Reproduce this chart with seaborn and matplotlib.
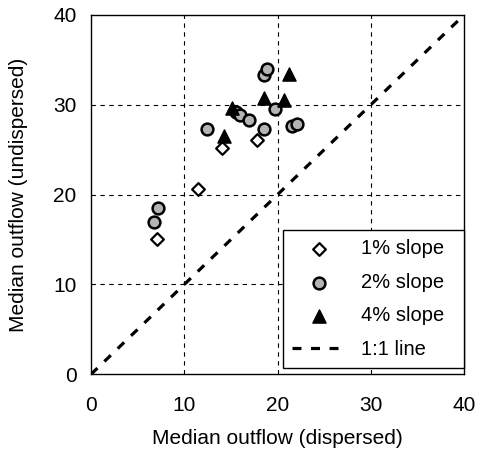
import matplotlib
matplotlib.use("Agg")
import matplotlib.pyplot as plt
import seaborn as sns
import pandas as pd
import numpy as np

# ---- data ----
slope1_x = [7.1, 11.5, 14.0, 17.8]
slope1_y = [15.1, 20.6, 25.2, 26.1]

slope2_x = [7.2, 6.8, 12.4, 15.6, 16.0, 16.9, 18.6, 18.6, 18.9, 19.7, 21.6, 22.1]
slope2_y = [18.5, 17.0, 27.3, 29.2, 28.9, 28.3, 27.3, 33.3, 34.0, 29.5, 27.6, 27.9]

slope4_x = [14.3, 15.1, 18.6, 20.7, 21.2]
slope4_y = [26.5, 29.6, 30.8, 30.5, 33.4]

line_x = [0, 40]
line_y = [0, 40]

labels = ["1% slope", "2% slope", "4% slope", "1:1 line"]
ticks = [0, 10, 20, 30, 40]

sns.set_theme(style="white")
plt.rcParams['font.family'] = ['Liberation Sans', 'DejaVu Sans']
plt.rcParams['text.color'] = 'black'
plt.rcParams['axes.labelcolor'] = 'black'

fig = plt.figure(figsize=(4.78, 4.59), dpi=100)
ax = fig.add_axes([91 / 478, 1 - 374.3 / 459, 373 / 478, 359.3 / 459])

df1 = pd.DataFrame({"x": slope1_x, "y": slope1_y})
df2 = pd.DataFrame({"x": slope2_x, "y": slope2_y})
df4 = pd.DataFrame({"x": slope4_x, "y": slope4_y})
dfl = pd.DataFrame({"x": line_x, "y": line_y})

sns.lineplot(data=dfl, x="x", y="y", ax=ax, color="black", lw=2.3,
             dashes=False, label=labels[3], zorder=2)
ax.lines[-1].set_dashes((2.8, 3.0))

sns.scatterplot(data=df1, x="x", y="y", ax=ax, marker="D", s=42,
                facecolor="white", edgecolor="black", linewidth=1.6,
                label=labels[0], zorder=3)
sns.scatterplot(data=df2, x="x", y="y", ax=ax, marker="o", s=72,
                facecolor="#b4b4b4", edgecolor="black", linewidth=1.8,
                label=labels[1], zorder=4)
sns.scatterplot(data=df4, x="x", y="y", ax=ax, marker="^", s=90,
                facecolor="black", edgecolor="black", linewidth=1.0,
                label=labels[2], zorder=5)

ax.set_xlim(0, 40)
ax.set_ylim(0, 40)
ax.set_xticks(ticks)
ax.set_yticks(ticks)
ax.set_xticklabels([str(t) for t in ticks])
ax.set_yticklabels([str(t) for t in ticks])

for v in ticks[1:-1]:
    ax.axvline(v, color="black", lw=0.8, dashes=(4, 4), zorder=1)
    ax.axhline(v, color="black", lw=0.8, dashes=(4, 4), zorder=1)

ax.tick_params(axis="both", direction="inout", length=7, width=0.9,
               colors="black", labelsize=15)
ax.tick_params(axis="x", pad=12)
ax.tick_params(axis="y", pad=7)
for s in ax.spines.values():
    s.set_visible(True)
    s.set_color("black")
    s.set_linewidth(1.0)

ax.set_xlabel("Median outflow (dispersed)", fontsize=15, color="black")
ax.set_ylabel("Median outflow (undispersed)", fontsize=15, color="black")
ax.xaxis.set_label_coords(0.5, -0.153)
ax.yaxis.set_label_coords(-0.17, 0.5)

handles, labs = ax.get_legend_handles_labels()
order = [labs.index(l) for l in labels]
leg = ax.legend([handles[i] for i in order], [labs[i] for i in order],
                loc="lower left", bbox_to_anchor=(0.515, 0.0175, 0.485, 0.376),
                mode="expand", fontsize=14.5, frameon=True, fancybox=False,
                edgecolor="black", framealpha=1, labelspacing=0.72,
                handlelength=2.7, handletextpad=0.7, borderpad=0.45,
                borderaxespad=0)
leg.get_frame().set_linewidth(1.0)
for t in leg.get_texts():
    t.set_color("black")

fig.savefig("out.png", dpi=100)
